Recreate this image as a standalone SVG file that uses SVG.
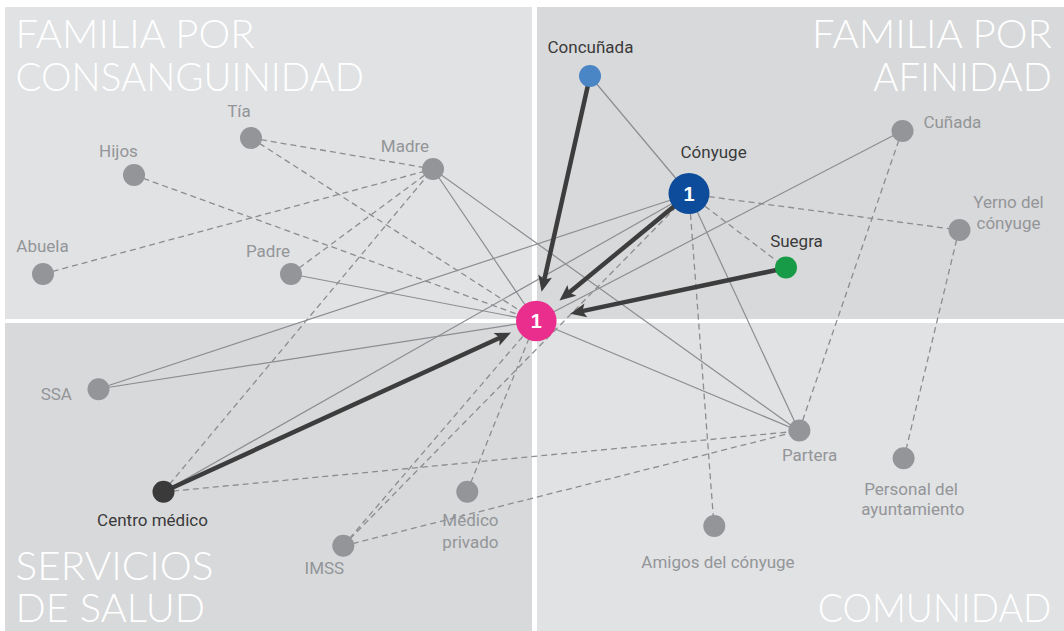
<svg xmlns="http://www.w3.org/2000/svg" width="1064" height="631" viewBox="0 0 1064 631">
<style>
.light{fill:#e1e2e4}
.dark{fill:#d8d9db}
.title{font-family:Lato,"Liberation Sans",sans-serif;font-weight:300;font-size:38.5px;fill:#ffffff}
.lbl{font-family:Roboto,"Liberation Sans",sans-serif;font-size:17px;fill:#939598}
.lbl.d{fill:#3a3a3a}
.num{font-family:"Liberation Sans",Arial,sans-serif;font-weight:bold;font-size:20px;fill:#ffffff;text-anchor:middle}
.solid{stroke:#8c8d90;stroke-width:1.2;fill:none}
.dash{stroke:#8c8d90;stroke-width:1.3;stroke-dasharray:6 4;fill:none}
.thick{stroke:#3d3d3d;stroke-width:4.5;fill:none;marker-end:url(#ah)}
.g{fill:#939598}
</style>
<defs>
<marker id="ah" markerUnits="userSpaceOnUse" viewBox="-6 -8 20 16" markerWidth="20" markerHeight="16" refX="0" refY="0" orient="auto">
<path d="M-5,-7 L11,0 L-5,7 L-1.5,0 z" fill="#3d3d3d"/>
</marker>
</defs>
<rect width="1064" height="631" fill="#ffffff"/>
<g id="panels">
<rect class="light" x="5" y="7" width="527" height="312"/>
<rect class="dark" x="537" y="7" width="527" height="312"/>
<rect class="dark" x="5" y="323" width="527" height="308"/>
<rect class="light" x="537" y="323" width="527" height="308"/>
</g>
<g id="titles">
<text class="title" x="15.5" y="48.3" textLength="239" lengthAdjust="spacingAndGlyphs">FAMILIA POR</text>
<text class="title" x="15.5" y="90.7" textLength="348.5" lengthAdjust="spacingAndGlyphs">CONSANGUINIDAD</text>
<text class="title" x="812" y="48.3" textLength="240" lengthAdjust="spacingAndGlyphs">FAMILIA POR</text>
<text class="title" x="873.3" y="90.7" textLength="178.5" lengthAdjust="spacingAndGlyphs">AFINIDAD</text>
<text class="title" x="15.5" y="580" textLength="198" lengthAdjust="spacingAndGlyphs">SERVICIOS</text>
<text class="title" x="15.5" y="622" textLength="189.5" lengthAdjust="spacingAndGlyphs">DE SALUD</text>
<text class="title" x="817.8" y="622" textLength="233.5" lengthAdjust="spacingAndGlyphs">COMUNIDAD</text>
</g>
<g id="connectors">
<line class="solid" x1="590" y1="76" x2="689" y2="194"/>
<line class="solid" x1="433" y1="169" x2="536" y2="321"/>
<line class="solid" x1="433" y1="169" x2="799" y2="431"/>
<line class="solid" x1="291" y1="274" x2="536" y2="321"/>
<line class="solid" x1="98" y1="389" x2="536" y2="321"/>
<line class="solid" x1="98" y1="389" x2="689" y2="194"/>
<line class="solid" x1="163" y1="492" x2="689" y2="194"/>
<line class="solid" x1="902" y1="131" x2="536" y2="321"/>
<line class="solid" x1="689" y1="194" x2="799" y2="431"/>
<line class="solid" x1="536" y1="321" x2="799" y2="431"/>
<line class="dash" x1="251" y1="138" x2="433" y2="169"/>
<line class="dash" x1="251" y1="138" x2="536" y2="321"/>
<line class="dash" x1="134" y1="175" x2="536" y2="321"/>
<line class="dash" x1="43" y1="274" x2="433" y2="169"/>
<line class="dash" x1="291" y1="274" x2="433" y2="169"/>
<line class="dash" x1="163" y1="492" x2="433" y2="169"/>
<line class="dash" x1="163" y1="492" x2="799" y2="431"/>
<line class="dash" x1="343" y1="546" x2="536" y2="321"/>
<line class="dash" x1="343" y1="546" x2="689" y2="194"/>
<line class="dash" x1="343" y1="546" x2="799" y2="431"/>
<line class="dash" x1="467" y1="492" x2="536" y2="321"/>
<line class="dash" x1="689" y1="194" x2="959" y2="230"/>
<line class="dash" x1="689" y1="194" x2="786" y2="268"/>
<line class="dash" x1="689" y1="194" x2="714" y2="526"/>
<line class="dash" x1="902" y1="131" x2="799" y2="431"/>
<line class="dash" x1="959" y1="230" x2="904" y2="458"/>
<line class="thick" x1="590" y1="76" x2="544" y2="281"/>
<line class="thick" x1="689" y1="194" x2="568" y2="293.5"/>
<line class="thick" x1="786" y1="268" x2="581" y2="311.4"/>
<line class="thick" x1="163" y1="492" x2="501" y2="337.2"/>
</g>
<g id="n-tia"><circle class="g" cx="251" cy="138" r="11"/><text class="lbl" x="239" y="117" text-anchor="middle">Tía</text></g>
<g id="n-hijos"><circle class="g" cx="134" cy="175" r="11"/><text class="lbl" x="118.5" y="157" text-anchor="middle">Hijos</text></g>
<g id="n-madre"><circle class="g" cx="433" cy="169" r="11"/><text class="lbl" x="405" y="151.5" text-anchor="middle">Madre</text></g>
<g id="n-abuela"><circle class="g" cx="43" cy="274" r="11"/><text class="lbl" x="42.5" y="251.7" text-anchor="middle">Abuela</text></g>
<g id="n-padre"><circle class="g" cx="291" cy="274" r="11"/><text class="lbl" x="268" y="256.7" text-anchor="middle">Padre</text></g>
<g id="n-concunada"><circle fill="#4a85c5" cx="590" cy="76" r="11"/><text class="lbl d" x="590.5" y="53.3" text-anchor="middle">Concuñada</text></g>
<g id="n-conyuge"><circle fill="#0d4c9b" cx="689" cy="193.5" r="20.5"/><text class="num" x="689" y="200.5">1</text><text class="lbl d" x="713.6" y="158.3" text-anchor="middle">Cónyuge</text></g>
<g id="n-cunada"><circle class="g" cx="902.5" cy="131" r="11"/><text class="lbl" x="923.4" y="127.7">Cuñada</text></g>
<g id="n-yerno"><circle class="g" cx="959.5" cy="230" r="11"/><text class="lbl" x="1008.5" y="207.7" text-anchor="middle">Yerno del</text><text class="lbl" x="1008.5" y="229.3" text-anchor="middle">cónyuge</text></g>
<g id="n-suegra"><circle fill="#179b47" cx="786" cy="267.5" r="11"/><text class="lbl d" x="796.5" y="247.3" text-anchor="middle">Suegra</text></g>
<g id="n-ssa"><circle class="g" cx="98.5" cy="389.3" r="11"/><text class="lbl" x="56.3" y="400" text-anchor="middle">SSA</text></g>
<g id="n-centro"><circle fill="#3a3a3a" cx="163.5" cy="491.7" r="11"/><text class="lbl d" x="152.5" y="525.7" text-anchor="middle">Centro médico</text></g>
<g id="n-medico"><circle class="g" cx="467.3" cy="491.7" r="11"/><text class="lbl" x="470.4" y="525.7" text-anchor="middle">Médico</text><text class="lbl" x="470.4" y="548.3" text-anchor="middle">privado</text></g>
<g id="n-imss"><circle class="g" cx="343.3" cy="545.7" r="11"/><text class="lbl" x="324.4" y="574.3" text-anchor="middle">IMSS</text></g>
<g id="n-partera"><circle class="g" cx="799.4" cy="430.5" r="11"/><text class="lbl" x="809.6" y="460.7" text-anchor="middle">Partera</text></g>
<g id="n-personal"><circle class="g" cx="903.6" cy="458.3" r="11"/><text class="lbl" x="911" y="495" text-anchor="middle">Personal del</text><text class="lbl" x="912.8" y="515" text-anchor="middle">ayuntamiento</text></g>
<g id="n-amigos"><circle class="g" cx="714.3" cy="526" r="11"/><text class="lbl" x="718" y="568.3" text-anchor="middle">Amigos del cónyuge</text></g>
<g id="n-ego"><circle fill="#ea2e8e" cx="536.3" cy="321" r="20.3"/><text class="num" x="536.3" y="328">1</text></g>
</svg>
